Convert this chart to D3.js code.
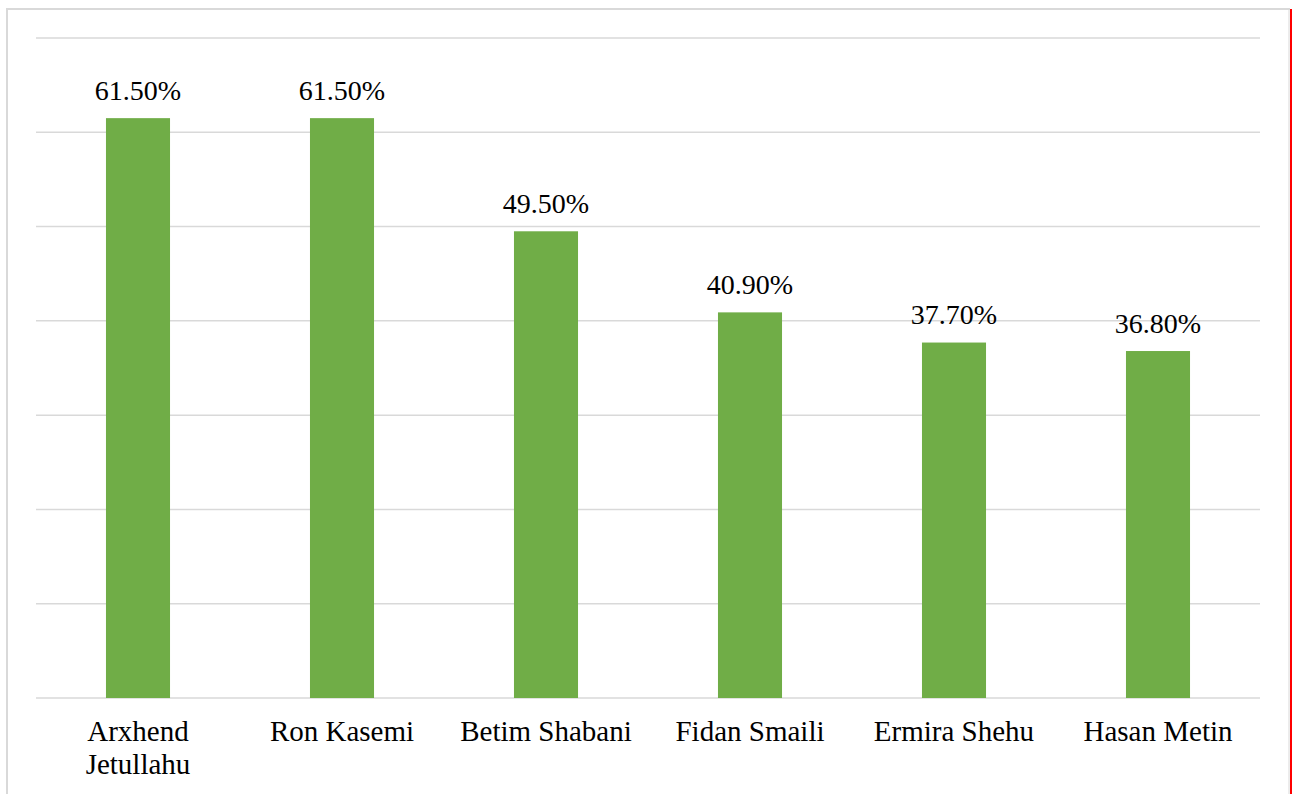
<!DOCTYPE html>
<html><head><meta charset="utf-8">
<script src="https://cdn.jsdelivr.net/npm/d3@7"></script>
<style>html,body{margin:0;padding:0;background:#fff;overflow:hidden}</style>
</head><body>
<svg id="c" width="1297" height="794"></svg>
<script>
const categories = [["Arxhend","Jetullahu"],["Ron Kasemi"],["Betim Shabani"],["Fidan Smaili"],["Ermira Shehu"],["Hasan Metin"]];
const values = [61.5, 61.5, 49.5, 40.9, 37.7, 36.8];
const labels = ["61.50%","61.50%","49.50%","40.90%","37.70%","36.80%"];
const gridTicks = [0,10,20,30,40,50,60,70];

const svg = d3.select("#c");
const font = "'Liberation Serif','Times New Roman',serif";

// frame
svg.append("line").attr("x1",7).attr("x2",7).attr("y1",8).attr("y2",794).attr("stroke","#d9d9d9").attr("stroke-width",2);
svg.append("line").attr("x1",6).attr("x2",1290).attr("y1",9).attr("y2",9).attr("stroke","#d9d9d9").attr("stroke-width",2);
svg.append("line").attr("x1",1289).attr("x2",1289).attr("y1",8).attr("y2",794).attr("stroke","#d9d9d9").attr("stroke-width",1);
svg.append("line").attr("x1",1291).attr("x2",1291).attr("y1",9).attr("y2",794).attr("stroke","#ff0000").attr("stroke-width",2);

const x = d3.scaleBand().domain(d3.range(values.length)).range([36,1260]).paddingInner(0.686).paddingOuter(0.343);
const y = d3.scaleLinear().domain([0,70]).range([698,38]);

svg.append("g").selectAll("line").data(gridTicks).join("line")
  .attr("x1",36).attr("x2",1260).attr("y1",d=>y(d)).attr("y2",d=>y(d))
  .attr("stroke","#d9d9d9").attr("stroke-width",1.5);

svg.append("g").selectAll("rect").data(values).join("rect")
  .attr("x",(d,i)=>x(i)).attr("width",x.bandwidth())
  .attr("y",d=>y(d)).attr("height",d=>y(0)-y(d)).attr("fill","#70ad47");

svg.append("g").selectAll("text").data(values).join("text")
  .attr("x",(d,i)=>x(i)+x.bandwidth()/2).attr("y",d=>y(d)-18.5)
  .attr("text-anchor","middle").attr("font-family",font).attr("font-size",28).attr("fill","#000")
  .text((d,i)=>labels[i]);

const cg = svg.append("g");
categories.forEach((lines,i)=>{
  const t = cg.append("text").attr("x",x(i)+x.bandwidth()/2).attr("y",741)
    .attr("text-anchor","middle").attr("font-family",font).attr("font-size",29).attr("fill","#000");
  lines.forEach((l,j)=>t.append("tspan").attr("x",x(i)+x.bandwidth()/2).attr("dy",j===0?0:33).text(l));
});
</script>
</body></html>
